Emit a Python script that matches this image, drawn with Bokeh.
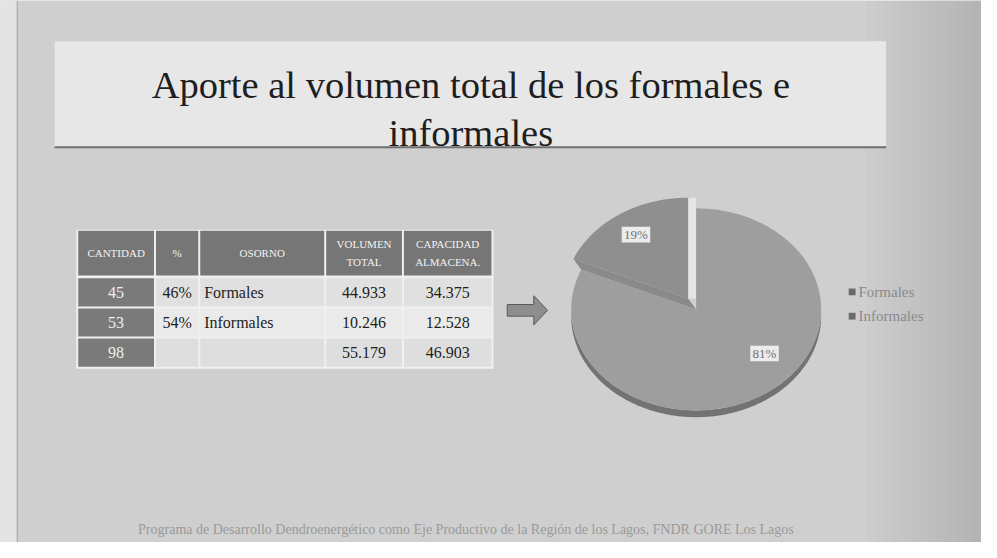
import numpy as np
from bokeh.plotting import figure
from bokeh.models import Range1d
from bokeh.embed import file_html
from bokeh.resources import INLINE
from bokeh.core.properties import value

# ---------------- data ----------------
title_lines = ["Aporte al volumen total de los formales e", "informales"]
header_labels = [["CANTIDAD"], ["%"], ["OSORNO"], ["VOLUMEN", "TOTAL"], ["CAPACIDAD", "ALMACENA."]]
cantidad = ["45", "53", "98"]
porcentaje = ["46%", "54%", ""]
osorno = ["Formales", "Informales", ""]
volumen_total = ["44.933", "10.246", "55.179"]
capacidad_almacena = ["34.375", "12.528", "46.903"]
pie_categories = ["Formales", "Informales"]
pie_volumes = [44.933, 10.246]
footer_text = ("Programa de Desarrollo Dendroenergético como Eje Productivo de la "
               "Región de los Lagos, FNDR GORE Los Lagos")

SERIF = value("Liberation Serif")

# ---------------- figure (coordinates = reference picture pixels) ----------------
W, H = 981, 542
p = figure(width=W, height=H, x_range=Range1d(0, 997), y_range=Range1d(558, 0),
           output_backend="svg", toolbar_location=None, min_border=0,
           background_fill_color="#cfcfcf", border_fill_color="#cfcfcf")
p.axis.visible = False
p.grid.visible = False
p.outline_line_color = None

# background shading
p.quad(left=[0], right=[17], top=[0], bottom=[558], fill_color="#e4e4e4", line_color=None)
p.segment(x0=[17], y0=[0], x1=[17], y1=[558], line_color="#a0a0a0", line_width=1)
nb = 14
p.quad(left=[880 + i * 9 for i in range(nb)], right=[997] * nb, top=[0] * nb, bottom=[558] * nb,
       fill_color="#707070", fill_alpha=0.018, line_color=None)

# title box
p.quad(left=[55], right=[900], top=[42], bottom=[151], fill_color="#e7e7e7", line_color=None)
p.segment(x0=[55], y0=[151], x1=[900], y1=[151], line_color="#6e6e6e", line_width=2)
p.text(x=[478, 478], y=[87, 136], text=title_lines, text_font=SERIF, text_font_size="38.5px",
       text_align="center", text_baseline="alphabetic", text_color="#1e1e1e")

# ---------------- table ----------------
col_edges = [78, 157, 202, 330, 409, 500]
head_top, head_bot = 237, 283
row_edges = [285, 316, 347, 378]
p.quad(left=[col_edges[0] - 1], right=[col_edges[-1] + 1], top=[head_top - 1],
       bottom=[row_edges[-1] + 1], fill_color="#f0f0f0", line_color=None)

hl = [col_edges[j] + 1 for j in range(5)]
hr = [col_edges[j + 1] - 1 for j in range(5)]
p.quad(left=hl, right=hr, top=[head_top] * 5, bottom=[head_bot] * 5,
       fill_color="#767676", line_color=None)

hx, hy, ht = [], [], []
for j, lines in enumerate(header_labels):
    cxh = (col_edges[j] + col_edges[j + 1]) / 2
    cyh = (head_top + head_bot) / 2
    n = len(lines)
    for k, t in enumerate(lines):
        hx.append(cxh)
        hy.append(cyh + (k - (n - 1) / 2) * 18)
        ht.append(t)
p.text(x=hx, y=hy, text=ht, text_font=SERIF, text_font_size="11px", text_align="center",
       text_baseline="middle", text_color="#f2f2f2")

row_fill = ["#e0e0e0", "#eaeaea", "#dedede"]
cl, cr, ct, cb, cf = [], [], [], [], []
for i in range(3):
    for j in range(5):
        cl.append(col_edges[j] + 1)
        cr.append(col_edges[j + 1] - 1)
        ct.append(row_edges[i] + 1)
        cb.append(row_edges[i + 1] - 1)
        cf.append("#7a7a7a" if j == 0 else row_fill[i])
p.quad(left=cl, right=cr, top=ct, bottom=cb, fill_color=cf, line_color=None)

columns = [cantidad, porcentaje, osorno, volumen_total, capacidad_almacena]
tx, ty, tt, tc, ta = [], [], [], [], []
for j, col in enumerate(columns):
    for i, t in enumerate(col):
        if not t:
            continue
        if j == 2:
            tx.append(col_edges[j] + 5)
            ta.append("left")
        else:
            tx.append((col_edges[j] + col_edges[j + 1]) / 2)
            ta.append("center")
        ty.append((row_edges[i] + row_edges[i + 1]) / 2)
        tt.append(t)
        tc.append("#f0f0f0" if j == 0 else "#1e1e1e")
p.text(x=tx, y=ty, text=tt, text_align=ta, text_color=tc, text_font=SERIF,
       text_font_size="16px", text_baseline="middle")

# ---------------- arrow ----------------
ax0, ay = 515, 319
ax_body, ax_tip = 542, 556
bh, hh = 6, 15
p.patch(x=[ax0, ax_body, ax_body, ax_tip, ax_body, ax_body, ax0],
        y=[ay - bh, ay - bh, ay - hh, ay, ay + hh, ay + bh, ay + bh],
        fill_color="#8e8e8e", line_color="#5a5a5a", line_width=1)

# ---------------- 3D pie ----------------
cx, cy, rx, ry, depth = 707, 318, 127, 104, 7
vals = np.array(pie_volumes, dtype=float)
fracs = vals / vals.sum()
starts = 90 - 360 * np.concatenate([[0], np.cumsum(fracs)[:-1]])
ends = starts - 360 * fracs
slice_colors = ["#9e9e9e", "#8f8f8f"]
side_color = "#737373"
explode_off = [(0.0, 0.0), (-8.0, -11.0)]

def arc(t0, t1, ox=0.0, oy=0.0, n=120):
    t = np.radians(np.linspace(t0, t1, n))
    return cx + ox + rx * np.cos(t), cy + oy - ry * np.sin(t)

# side band (front half) for first slice
t0 = max(-180, ends[0])
xs_top, ys_top = arc(t0, 0)
side_x = list(xs_top) + list(xs_top[::-1])
side_y = list(ys_top) + list((ys_top + depth)[::-1])
p.patch(x=side_x, y=side_y, fill_color=side_color, line_color=None)

slices = []
for k in range(len(vals)):
    ox, oy = explode_off[k]
    ax_, ay_ = arc(starts[k], ends[k], ox, oy)
    slices.append(([cx + ox] + list(ax_), [cy + oy] + list(ay_)))

# exploded (back) slice, its lower side face, the light gap, then the front slice on top
ox1, oy1 = explode_off[1]
p.patch(x=slices[1][0], y=slices[1][1], fill_color=slice_colors[1], line_color=None)
ea = np.radians(ends[1] if abs(ends[1] - starts[0]) > 1e-6 else starts[1])
ea = np.radians(starts[1])
ex, ey = rx * np.cos(ea), -ry * np.sin(ea)
p.patch(x=[cx + ox1, cx + ox1 + ex, cx + ex, cx], y=[cy + oy1, cy + oy1 + ey, cy + ey, cy],
        fill_color="#8a8a8a", line_color=None)
p.quad(left=[cx + ox1], right=[cx], top=[cy + oy1 - ry], bottom=[cy + oy1],
       fill_color="#e4e4e4", line_color=None)
p.patch(x=slices[0][0], y=slices[0][1], fill_color=slice_colors[0], line_color=None)

# data labels
label_angle = [(starts[0] + ends[0]) / 2 + 18, (starts[1] + ends[1]) / 2]
label_r = [0.70, 0.76]
lx, ly, lt = [], [], []
for k in range(len(vals)):
    a = np.radians(label_angle[k])
    lx.append(cx + explode_off[k][0] + label_r[k] * rx * np.cos(a))
    ly.append(cy + explode_off[k][1] - label_r[k] * ry * np.sin(a))
    lt.append(f"{round(fracs[k] * 100)}%")
p.rect(x=lx, y=ly, width=29, height=16, fill_color="#ececec", line_color=None)
p.text(x=lx, y=ly, text=lt, text_font=SERIF, text_font_size="13px", text_align="center",
       text_baseline="middle", text_color="#707070")

# legend
leg_y = [300, 325]
p.quad(left=[862] * 2, right=[869] * 2, top=[y - 3.5 for y in leg_y], bottom=[y + 3.5 for y in leg_y],
       fill_color="#6a6a6a", line_color=None)
p.text(x=[872] * 2, y=leg_y, text=pie_categories, text_font=SERIF, text_font_size="15px",
       text_baseline="middle", text_color="#8a8a8a")

# footer
p.text(x=[473], y=[545], text=[footer_text], text_font=SERIF, text_font_size="14px",
       text_align="center", text_baseline="middle", text_color="#9a9a9a")

open("out.html", "w").write(file_html(p, INLINE))
